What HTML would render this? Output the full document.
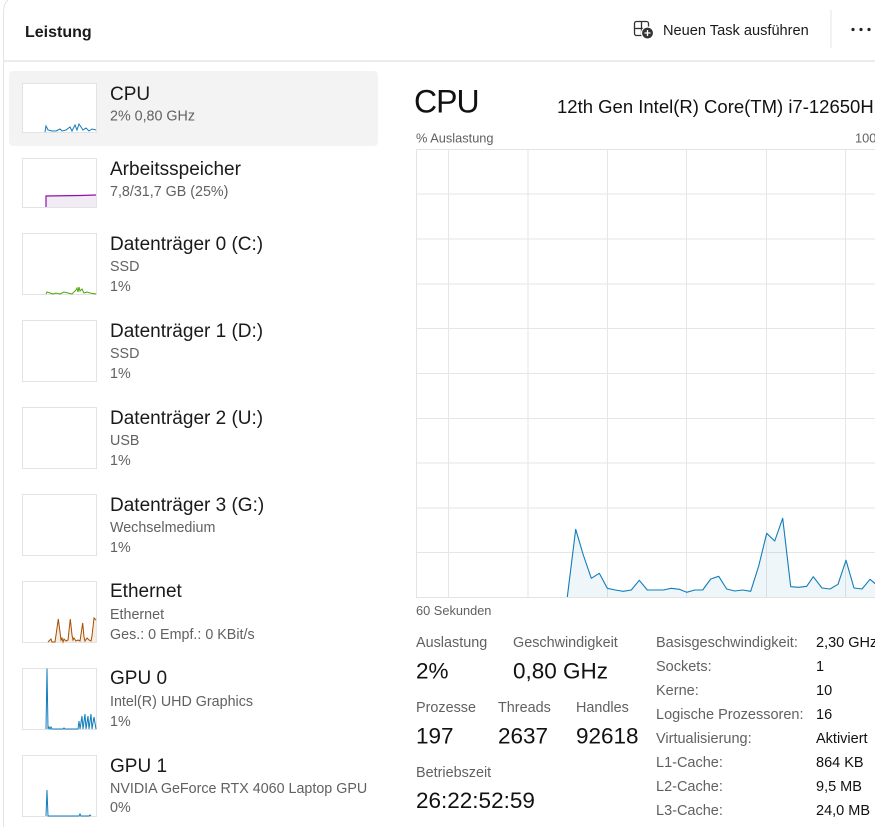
<!DOCTYPE html>
<html><head><meta charset="utf-8">
<style>
html,body{margin:0;padding:0;background:#fff;}
body{width:875px;height:827px;overflow:hidden;}
svg{display:block;font-family:"Liberation Sans",sans-serif;}
.t{font-size:19px;fill:#1a1a1a;}
.s{font-size:14.3px;fill:#616161;}
.l{font-size:14.4px;fill:#616161;}
.v{font-size:22.5px;fill:#111;}
.r{font-size:14.5px;fill:#616161;}
.rv{font-size:14.5px;fill:#111;}
</style></head>
<body>
<svg width="875" height="827" viewBox="0 0 875 827" xmlns="http://www.w3.org/2000/svg">
<rect width="875" height="827" fill="#fff"/>
<!-- window edge -->
<path d="M3.5 827 V14 Q3.5 3 8 0" fill="none" stroke="#e3e3e3" stroke-width="1"/>
<!-- header -->
<text x="25" y="37" style="font-size:16px;font-weight:bold;fill:#1a1a1a">Leistung</text>
<g fill="none" stroke="#333" stroke-width="1.3">
<rect x="634.5" y="21.5" width="14" height="14" rx="2"/>
<line x1="641.5" y1="21.5" x2="641.5" y2="35.5"/>
<line x1="634.5" y1="28.5" x2="648.5" y2="28.5"/>
</g>
<circle cx="647.5" cy="33" r="6" fill="#333" stroke="#fff" stroke-width="1.2"/>
<path d="M647.5 30 V36 M644.5 33 H650.5" stroke="#fff" stroke-width="1.3"/>
<text x="663" y="35" style="font-size:14.6px;fill:#1a1a1a">Neuen Task ausführen</text>
<line x1="831" y1="10" x2="831" y2="48" stroke="#e5e5e5" stroke-width="1"/>
<circle cx="853" cy="29.5" r="1.6" fill="#222"/>
<circle cx="861" cy="29.5" r="1.6" fill="#222"/>
<circle cx="869" cy="29.5" r="1.6" fill="#222"/>
<rect x="3" y="60" width="872" height="2" fill="#ebebeb"/>

<!-- selected item -->
<rect x="9" y="71" width="369" height="75" rx="4" fill="#f3f3f3"/>

<!-- thumbnails -->
<g fill="#fff" stroke="#e3e3e3" stroke-width="1">
<rect x="22.5" y="83.5" width="74" height="49"/>
<rect x="22.5" y="158.5" width="74" height="49"/>
<rect x="22.5" y="233.5" width="74" height="61"/>
<rect x="22.5" y="320.5" width="74" height="61"/>
<rect x="22.5" y="407.5" width="74" height="61"/>
<rect x="22.5" y="494.5" width="74" height="61"/>
<rect x="22.5" y="581.5" width="74" height="61"/>
<rect x="22.5" y="668.5" width="74" height="61"/>
<rect x="22.5" y="755.5" width="74" height="61"/>
</g>
<!-- CPU thumb -->
<polyline fill="none" stroke="#117dbb" stroke-width="1" points="45,132 46,126 48,130 52,131 56,131 60,129 62,131 66,130 70,127 72,131 75,125 77,130 79,124 81,127 83,130 86,128 89,131 92,129 96,130"/>
<!-- memory thumb -->
<path d="M46 207 V196 L80 195.5 L96 195 V207 Z" fill="#f1ebf3"/>
<polyline fill="none" stroke="#8b12ae" stroke-width="1.2" points="46,207 46,196 80,195.5 96,195"/>
<!-- disk0 -->
<polyline fill="none" stroke="#4da60c" stroke-width="1" points="46,294 47,292 50,293 53,294 56,293 60,294 64,292 68,293 72,294 76,290 77,288 78,292 79,287 80,291 82,289 84,293 87,292 90,293 96,294"/>
<!-- ethernet -->
<path d="M48,642 50,640 51,639 52,642 55,642 58.3,619 60,632 61,640 62,638 63,642 64,639 66,641 68,640 70.3,619 72,635 73,640 74,638 76,641 78,640 80,641 82.7,623 84,637 85,641 87,638 89,640 91,641 92,636 94,618 96,620 96,642 Z" fill="#f6ede5"/>
<polyline fill="none" stroke="#a74f01" stroke-width="1" points="48,642 50,640 51,639 52,642 55,642 58.3,619 60,632 61,640 62,638 63,642 64,639 66,641 68,640 70.3,619 72,635 73,640 74,638 76,641 78,640 80,641 82.7,623 84,637 85,641 87,638 89,640 91,641 92,636 94,618 96,620"/>
<!-- gpu0 -->
<polyline fill="none" stroke="#117dbb" stroke-width="1" points="46,729 47,668.5 48,729 49,727 50,729 51,727 52,729 63,729 64,728 65,729 78,729 79,721 80,729 82,716 83,729 85,714 86,729 88,716 89,729 91,714 92,729 94,717 96,729"/>
<!-- gpu1 -->
<polyline fill="none" stroke="#117dbb" stroke-width="1" points="46,816 47,790 48,816 79,816 80,814 81,816 89,816 90,815 91,816"/>

<!-- left labels -->
<text x="110" y="100" class="t">CPU</text>
<text x="110" y="120.5" class="s">2%  0,80 GHz</text>
<text x="110" y="175" class="t">Arbeitsspeicher</text>
<text x="110" y="196" class="s">7,8/31,7 GB (25%)</text>
<text x="110" y="250" class="t">Datenträger 0 (C:)</text>
<text x="110" y="271" class="s">SSD</text>
<text x="110" y="291" class="s">1%</text>
<text x="110" y="337" class="t">Datenträger 1 (D:)</text>
<text x="110" y="358" class="s">SSD</text>
<text x="110" y="378" class="s">1%</text>
<text x="110" y="424" class="t">Datenträger 2 (U:)</text>
<text x="110" y="445" class="s">USB</text>
<text x="110" y="465" class="s">1%</text>
<text x="110" y="511" class="t">Datenträger 3 (G:)</text>
<text x="110" y="532" class="s">Wechselmedium</text>
<text x="110" y="552" class="s">1%</text>
<text x="110" y="597" class="t">Ethernet</text>
<text x="110" y="619" class="s">Ethernet</text>
<text x="110" y="639" class="s">Ges.: 0 Empf.: 0 KBit/s</text>
<text x="110" y="684" class="t">GPU 0</text>
<text x="110" y="706" class="s">Intel(R) UHD Graphics</text>
<text x="110" y="726" class="s">1%</text>
<text x="110" y="772" class="t">GPU 1</text>
<text x="110" y="793" class="s">NVIDIA GeForce RTX 4060 Laptop GPU</text>
<text x="110" y="812" class="s">0%</text>

<!-- right header -->
<text x="414" y="112.5" style="font-size:32px;letter-spacing:-1px;fill:#111">CPU</text>
<text x="557" y="113" style="font-size:18.5px;fill:#111">12th Gen Intel(R) Core(TM) i7-12650H</text>
<text x="416" y="142.5" style="font-size:12.8px;fill:#616161">% Auslastung</text>
<text x="855" y="142.5" style="font-size:12.8px;fill:#616161">100%</text>

<!-- chart -->
<g stroke="#e6e6e6" stroke-width="1">
<line x1="416" y1="194" x2="875" y2="194"/>
<line x1="416" y1="239" x2="875" y2="239"/>
<line x1="416" y1="284" x2="875" y2="284"/>
<line x1="416" y1="328.5" x2="875" y2="328.5"/>
<line x1="416" y1="373.5" x2="875" y2="373.5"/>
<line x1="416" y1="418.5" x2="875" y2="418.5"/>
<line x1="416" y1="463" x2="875" y2="463"/>
<line x1="416" y1="508" x2="875" y2="508"/>
<line x1="416" y1="552.5" x2="875" y2="552.5"/>
<line x1="448.5" y1="149" x2="448.5" y2="597"/>
<line x1="528" y1="149" x2="528" y2="597"/>
<line x1="607.5" y1="149" x2="607.5" y2="597"/>
<line x1="686.5" y1="149" x2="686.5" y2="597"/>
<line x1="766.5" y1="149" x2="766.5" y2="597"/>
<line x1="845.5" y1="149" x2="845.5" y2="597"/>
</g>
<path d="M567.3,597 L575.7,529.3 583.3,555 591.3,578.3 599.3,573.3 607.3,588.3 615.3,590 623.3,591.3 631.3,590 639.3,580.3 647.3,590 655.3,590 663.3,590 671.3,588.3 679.3,589.3 686.7,592.3 694.7,590 702.7,590 710.7,579 718.7,576.3 726.7,589 734.7,591 742.7,590 750.7,591.3 758.7,566 766.7,533.3 774.7,541 782.7,518.3 790.7,586.7 798.7,587.3 806.7,586.3 813.3,576.7 822,588 830,589 838,584.3 846,560.3 854,588 862,589 870,579.3 878,586 L878,597 Z" fill="#117dbb" fill-opacity="0.07"/>
<polyline fill="none" stroke="#117dbb" stroke-width="1.1" stroke-linejoin="round" points="567.3,597 575.7,529.3 583.3,555 591.3,578.3 599.3,573.3 607.3,588.3 615.3,590 623.3,591.3 631.3,590 639.3,580.3 647.3,590 655.3,590 663.3,590 671.3,588.3 679.3,589.3 686.7,592.3 694.7,590 702.7,590 710.7,579 718.7,576.3 726.7,589 734.7,591 742.7,590 750.7,591.3 758.7,566 766.7,533.3 774.7,541 782.7,518.3 790.7,586.7 798.7,587.3 806.7,586.3 813.3,576.7 822,588 830,589 838,584.3 846,560.3 854,588 862,589 870,579.3 878,586"/>
<path d="M876 149.5 H416.5 V597.5 H876" fill="none" stroke="#e3e3e3" stroke-width="1"/>
<text x="416" y="615" style="font-size:12.8px;fill:#616161">60 Sekunden</text>

<!-- stats -->
<text x="416" y="647" class="l">Auslastung</text>
<text x="513" y="647" class="l">Geschwindigkeit</text>
<text x="416" y="678.5" class="v">2%</text>
<text x="513" y="678.5" class="v">0,80 GHz</text>
<text x="416" y="712" class="l">Prozesse</text>
<text x="498" y="712" class="l">Threads</text>
<text x="576" y="712" class="l">Handles</text>
<text x="416" y="743.5" class="v">197</text>
<text x="498" y="743.5" class="v">2637</text>
<text x="576" y="743.5" class="v">92618</text>
<text x="416" y="777" class="l">Betriebszeit</text>
<text x="416" y="808" class="v">26:22:52:59</text>

<text x="656" y="647" class="r">Basisgeschwindigkeit:</text>
<text x="816" y="647" class="rv">2,30 GHz</text>
<text x="656" y="671" class="r">Sockets:</text>
<text x="816" y="671" class="rv">1</text>
<text x="656" y="695" class="r">Kerne:</text>
<text x="816" y="695" class="rv">10</text>
<text x="656" y="719" class="r">Logische Prozessoren:</text>
<text x="816" y="719" class="rv">16</text>
<text x="656" y="743" class="r">Virtualisierung:</text>
<text x="816" y="743" class="rv">Aktiviert</text>
<text x="656" y="767" class="r">L1-Cache:</text>
<text x="816" y="767" class="rv">864 KB</text>
<text x="656" y="791" class="r">L2-Cache:</text>
<text x="816" y="791" class="rv">9,5 MB</text>
<text x="656" y="815" class="r">L3-Cache:</text>
<text x="816" y="815" class="rv">24,0 MB</text>
</svg>
</body></html>
